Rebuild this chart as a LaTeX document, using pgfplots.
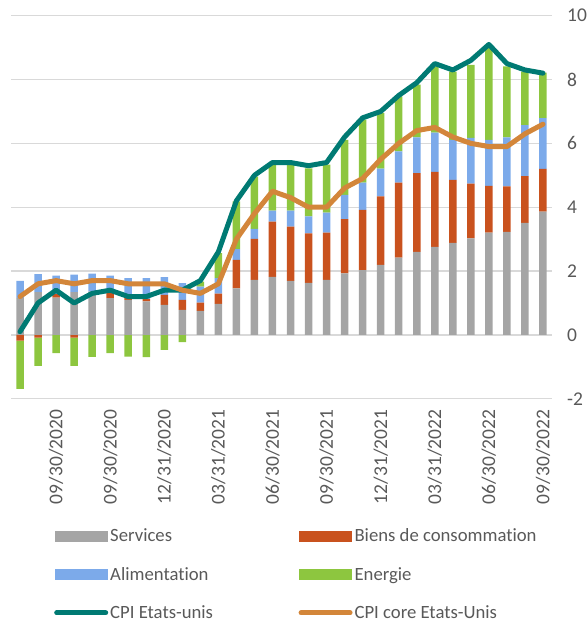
\documentclass[border=0pt]{standalone}
\usepackage{pgfplots}
\pgfplotsset{compat=1.18}
\usepackage{pgfplotstable}
\usepackage{fontspec}
\setmainfont[Ligatures=NoCommon]{Carlito}
\definecolor{cServ}{RGB}{165,165,165}
\definecolor{cBiens}{RGB}{201,82,30}
\definecolor{cAlim}{RGB}{124,170,234}
\definecolor{cEner}{RGB}{141,198,63}
\definecolor{cTeal}{RGB}{0,122,115}
\definecolor{cCore}{RGB}{211,134,58}
\definecolor{cText}{RGB}{89,89,89}
\definecolor{cGrid}{RGB}{217,217,217}

\pgfplotstableread{
x  S    B    A    E    Bn    En    CPI  Core
0  1.15 0.00 0.54 0.00 -0.18 -1.51 0.1  1.2
1  1.34 0.00 0.56 0.00 -0.09 -0.88 1.0  1.6
2  1.17 0.11 0.58 0.00 0.00  -0.57 1.4  1.7
3  1.34 0.00 0.55 0.00 -0.09 -0.88 1.0  1.6
4  1.36 0.00 0.56 0.00 0.00  -0.69 1.3  1.7
5  1.15 0.16 0.55 0.00 0.00  -0.57 1.4  1.7
6  1.10 0.08 0.60 0.00 0.00  -0.68 1.2  1.6
7  1.05 0.07 0.66 0.00 0.00  -0.70 1.2  1.6
8  0.94 0.31 0.56 0.00 0.00  -0.47 1.4  1.6
9  0.78 0.32 0.52 0.00 0.00  -0.23 1.4  1.4
10 0.75 0.26 0.50 0.16 0.00  0.00  1.7  1.3
11 0.97 0.32 0.49 0.78 0.00  0.00  2.6  1.6
12 1.46 0.89 0.34 1.49 0.00  0.00  4.2  3.0
13 1.72 1.29 0.31 1.64 0.00  0.00  5.0  3.8
14 1.82 1.73 0.34 1.49 0.00  0.00  5.4  4.5
15 1.69 1.70 0.50 1.49 0.00  0.00  5.4  4.3
16 1.63 1.55 0.53 1.51 0.00  0.00  5.3  4.0
17 1.72 1.48 0.63 1.50 0.00  0.00  5.4  4.0
18 1.93 1.70 0.76 1.72 0.00  0.00  6.2  4.6
19 2.03 1.89 0.85 1.97 0.00  0.00  6.8  4.9
20 2.19 2.15 0.87 1.74 0.00  0.00  7.0  5.5
21 2.42 2.35 0.98 1.72 0.00  0.00  7.5  6.0
22 2.60 2.47 1.12 1.65 0.00  0.00  7.9  6.4
23 2.76 2.35 1.23 2.07 0.00  0.00  8.5  6.5
24 2.88 1.98 1.25 2.14 0.00  0.00  8.3  6.2
25 3.02 1.72 1.43 2.29 0.00  0.00  8.6  6.0
26 3.20 1.47 1.44 2.88 0.00  0.00  9.1  5.9
27 3.23 1.42 1.54 2.22 0.00  0.00  8.5  5.9
28 3.51 1.46 1.60 1.68 0.00  0.00  8.3  6.3
29 3.86 1.34 1.59 1.43 0.00  0.00  8.2  6.6
}\datatab

\begin{document}
\begin{tikzpicture}
\path[use as bounding box] (-11pt,-223.3pt) rectangle (577pt,398.7pt);
\pgfplotsset{base/.style={
  scale only axis, width=541pt, height=383pt,
  xmin=-0.5, xmax=29.5, ymin=-2, ymax=10,
  font=\fontsize{19.5}{23}\selectfont,
  major tick length=0pt,
}}
% axis 1: grid, ticks, negative bars
\begin{axis}[base,
  ybar stacked, bar width=7.5pt,
  axis line style={draw=none},
  ymajorgrids, grid style={cGrid, line width=1.4pt},
  ytick={-2,0,2,4,6,8,10},
  yticklabels={-2,0,2,4,6,8,10},
  yticklabel pos=right,
  yticklabel style={anchor=west, inner sep=0pt, xshift=15pt, text=cText},
  xtick={2,5,8,11,14,17,20,23,26,29},
  xticklabels={09/30/2020,09/30/2020,12/31/2020,03/31/2021,06/30/2021,09/30/2021,12/31/2021,03/31/2022,06/30/2022,09/30/2022},
  xticklabel style={rotate=90, anchor=east, inner sep=0pt, text=cText},
  xticklabel shift=11pt,
]
\addplot[fill=cBiens, draw=none] table[x=x, y=Bn] {\datatab};
\addplot[fill=cEner, draw=none] table[x=x, y=En] {\datatab};
\end{axis}
% axis 2: positive stacked bars
\begin{axis}[base, hide axis, ybar stacked, bar width=7.5pt]
\addplot[fill=cServ, draw=none] table[x=x, y=S] {\datatab};
\addplot[fill=cBiens, draw=none] table[x=x, y=B] {\datatab};
\addplot[fill=cAlim, draw=none] table[x=x, y=A] {\datatab};
\addplot[fill=cEner, draw=none] table[x=x, y=E] {\datatab};
\end{axis}
% axis 3: lines and legend
\begin{axis}[base, hide axis,
  legend columns=2,
  legend cell align=left,
  legend style={at={(0.0795,-0.339)}, anchor=north west, draw=none, fill=none,
    inner sep=0pt, row sep=24pt, text=cText,
    font=\fontsize{18.7}{22}\selectfont,
    nodes={inner xsep=2pt, inner ysep=0pt},
    /tikz/every even column/.append style={column sep=83.5pt}},
]
\addlegendimage{legend image code/.code={\fill[cServ] (0pt,-5pt) rectangle (52pt,5pt);}}
\addlegendentry{Services}
\addlegendimage{legend image code/.code={\fill[cBiens] (0pt,-5pt) rectangle (52pt,5pt);}}
\addlegendentry{Biens de consommation}
\addlegendimage{legend image code/.code={\fill[cAlim] (0pt,-5pt) rectangle (52pt,5pt);}}
\addlegendentry{Alimentation}
\addlegendimage{legend image code/.code={\fill[cEner] (0pt,-5pt) rectangle (52pt,5pt);}}
\addlegendentry{Energie}
\addplot[cTeal, line width=5pt, line join=round, line cap=round, mark=none,
  legend image code/.code={\draw[cTeal, line width=5pt, line cap=round] (1.5pt,0pt) -- (50.5pt,0pt);}]
  table[x=x, y=CPI] {\datatab};
\addlegendentry{CPI Etats-unis}
\addplot[cCore, line width=5pt, line join=round, line cap=round, mark=none,
  legend image code/.code={\draw[cCore, line width=5pt, line cap=round] (1.5pt,0pt) -- (50.5pt,0pt);}]
  table[x=x, y=Core] {\datatab};
\addlegendentry{CPI core Etats-Unis}
\end{axis}
\end{tikzpicture}
\end{document}
